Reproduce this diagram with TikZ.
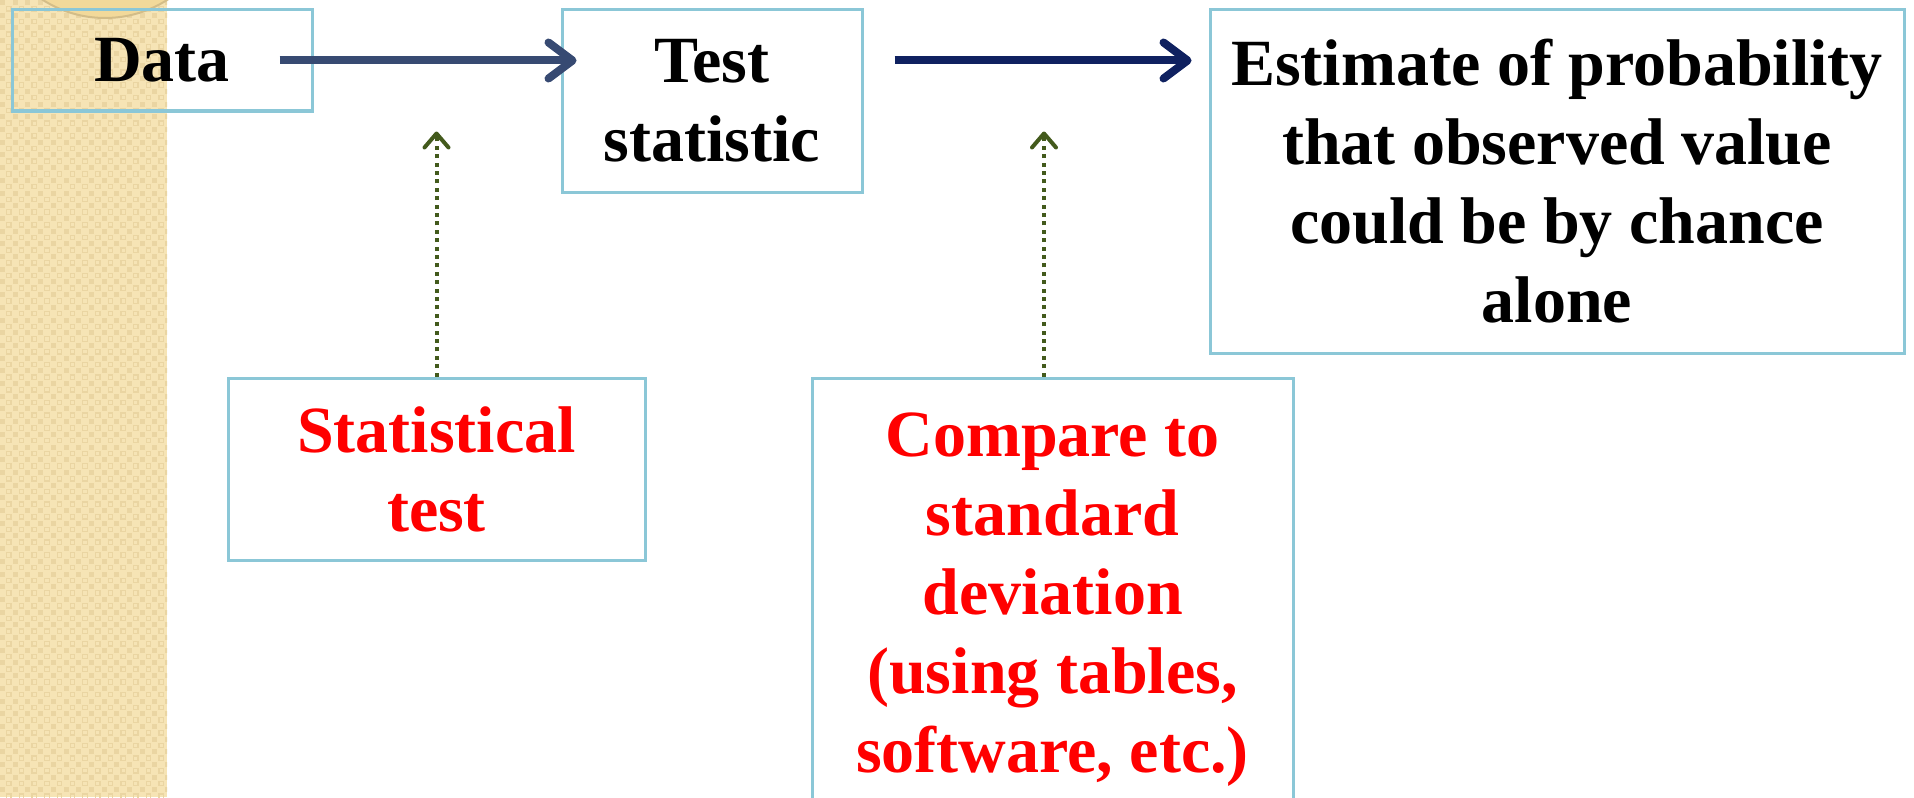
\documentclass[tikz,border=0pt]{standalone}
\usepackage{fontspec}
\setmainfont{Liberation Serif}
\usetikzlibrary{arrows.meta}
\definecolor{boxblue}{HTML}{8BC7D7}
\definecolor{navyA}{HTML}{374A72}
\definecolor{navyB}{HTML}{0F2160}
\definecolor{dotgreen}{HTML}{435A1C}
\definecolor{stripbeige}{HTML}{F6E4B5}
\definecolor{stripdot}{HTML}{EAD5A2}
\definecolor{disc}{HTML}{F2D99A}
\definecolor{discedge}{HTML}{D3BD88}

\begin{document}
\begin{tikzpicture}[x=0.5pt,y=-0.5pt,
  box/.style={draw=boxblue,line width=1.5pt,inner sep=0pt,align=center,
    font=\bfseries\fontsize{33}{39.5}\selectfont},
  flow/.style={line width=4pt,-{Straight Barb[round,length=12pt,width=18pt]}},
  hint/.style={dotgreen,line width=2pt,dash pattern=on 2pt off 2.2pt,
    -{Straight Barb[round,length=7pt,width=12pt]}}]
  \useasboundingbox (0,0) rectangle (1914,797);
  \clip (0,0) rectangle (1914,797);
  % Side strip
  \begin{scope}
    \clip (0,0) rectangle (167,797);
    \fill[stripbeige] (0,0) rectangle (167,797);
    \foreach \i in {0,...,13}
      \foreach \j in {0,...,63} {
        \fill[stripdot] ({\i*12.7},{\j*12.7}) rectangle +(5,5);
        \draw[stripdot,line width=0.6pt] ({\i*12.7+6.6},{\j*12.7+6.6}) rectangle +(4.4,4.4);
      }
  \end{scope}
  \filldraw[fill=disc,draw=discedge,line width=1pt] (105,-98) circle [radius=116];
  % Boxes
  \node[box,minimum width=150pt,minimum height=50.5pt] (data) at (162,60.5) {Data};
  \node[box,minimum width=150pt,minimum height=91pt] (test) at (712,101) {Test\\statistic};
  \node[box,minimum width=347pt,minimum height=171.5pt] (prob) at (1557,181.5)
    {Estimate of probability\\that observed value\\could be by chance\\alone};
  \node[box,text=red,minimum width=208.5pt,minimum height=91pt] (stat) at (436.5,469)
    {Statistical\\test};
  \node[box,text=red,minimum width=240.5pt,minimum height=222pt] (cmp) at (1052.5,600)
    {Compare to\\standard\\deviation\\(using tables,\\software, etc.)};
  % Main flow
  \draw[flow,navyA,shorten <=-17pt,shorten >=-8pt] (data.east) -- (data.east -| test.west);
  \draw[flow,navyB,shorten <=15.5pt,shorten >=8.5pt] (test.east |- data.east) -- (prob.west |- data.east);
  % Inputs
  \draw[hint,shorten >=9.5pt] (stat.north) -- (stat.north |- data.south);
  \draw[hint,shorten >=9.5pt] ([xshift=-4.25pt]cmp.north) -- ([xshift=-4.25pt]cmp.north |- data.south);
\end{tikzpicture}
\end{document}
